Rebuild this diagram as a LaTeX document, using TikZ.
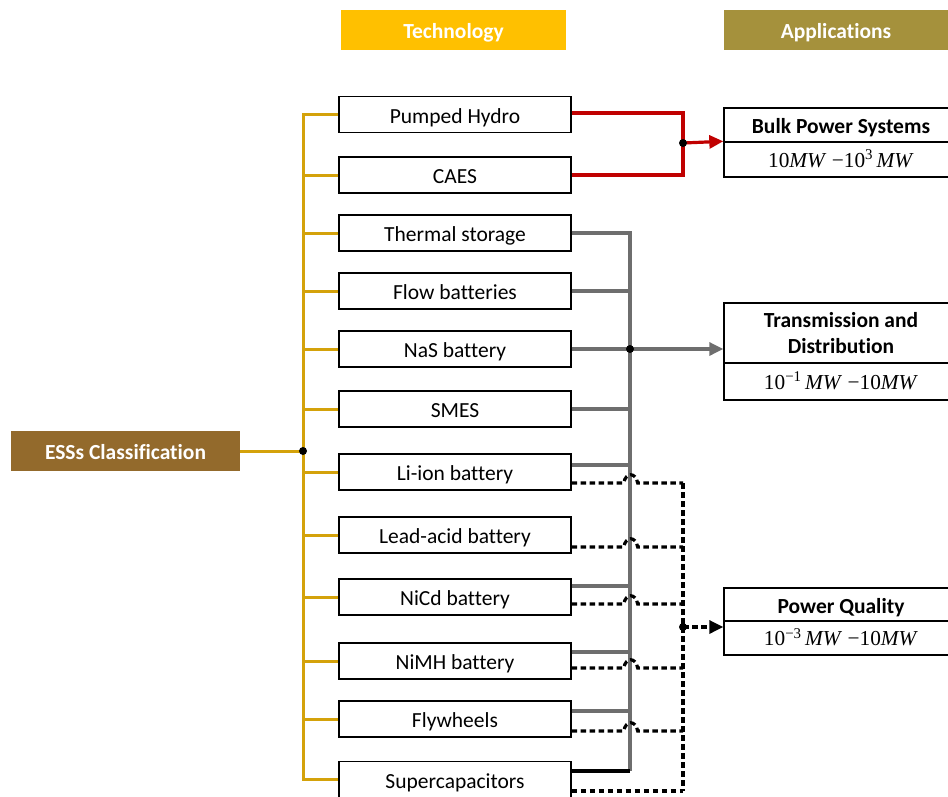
\documentclass[tikz,border=0pt]{standalone}
\usepackage{fontspec}
\setmainfont{Carlito}[Ligatures=CommonOff]
\newfontfamily\tnr{Liberation Serif}
\usetikzlibrary{arrows.meta,calc}
\definecolor{techgold}{HTML}{FFC000}
\definecolor{appolive}{HTML}{A5913C}
\definecolor{essbrown}{HTML}{936A2C}
\definecolor{spinegold}{RGB}{212,162,10}
\definecolor{busred}{HTML}{C00000}
\definecolor{busgrey}{RGB}{110,110,110}
\begin{document}
\begin{tikzpicture}[x=1pt,y=-1pt,
  big/.style={font=\fontsize{21.5}{26}\selectfont},
  bigb/.style={font=\fontsize{21.5}{26}\selectfont\bfseries},
  header/.style={bigb, text=white, inner sep=0, minimum height=40, text height=17.6, text depth=0},
  techbox/.style={big, draw, line width=1.4pt, minimum width=232, minimum height=36, inner sep=0,
    text height=17.6, text depth=0},
  appbox/.style={draw, line width=1.4pt, minimum width=234, inner sep=0, align=center},
  rangetext/.style={font=\fontsize{21.3}{25}\selectfont\tnr, text height=15.5, text depth=0},
  spine/.style={draw=spinegold, line width=3pt},
  redline/.style={draw=busred, line width=3.2pt},
  greyline/.style={draw=busgrey, line width=3.2pt},
  dashline/.style={draw=black, line width=3.2pt, dash pattern=on 5.5pt off 3.5pt},
  junction/.style={circle, fill=black, inner sep=0, minimum size=8},
  tip/.style={-{Triangle[length=14pt,width=13pt]}}
]
\clip (0,0) rectangle (948,796);
\useasboundingbox (0,0) rectangle (948,796);

% headers
\node[header, fill=techgold, minimum width=225] (htech) at (453.5,30) {Technology};
\node[header, fill=appolive, minimum width=224] (happ) at (836,30) {Applications};
\node[header, fill=essbrown, minimum width=229] (ess) at (125.5,451) {ESSs Classification};

% technology boxes
\foreach \n/\t/\y in {ph/Pumped Hydro/114.5, caes/CAES/175, th/Thermal storage/233,
  fb/Flow batteries/291, nas/NaS battery/349, smes/SMES/409, li/Li-ion battery/472,
  la/Lead-acid battery/535, nicd/NiCd battery/597, nimh/NiMH battery/661,
  fw/Flywheels/719, sc/Supercapacitors/779.5}
  \node[techbox] (\n) at (455,\y) {\t};

% application boxes
\node[appbox, bigb, minimum height=34, text height=17.6, text depth=0] (bulkT) at (841,125) {Bulk Power Systems};
\node[appbox, rangetext, minimum height=35] (bulkR) at (841,159.5)
  {10\textit{MW} −10\textsuperscript{3}\,\textit{MW}};
\node[appbox, bigb, minimum height=60] (trT) at (841,333) {Transmission and\\Distribution};
\node[appbox, rangetext, minimum height=37] (trR) at (841,381.5)
  {10\textsuperscript{−1}\,\textit{MW} −10\textit{MW}};
\node[appbox, bigb, minimum height=33, text height=17.6, text depth=0] (pqT) at (841,604.5) {Power Quality};
\node[appbox, rangetext, minimum height=34] (pqR) at (841,638)
  {10\textsuperscript{−3}\,\textit{MW} −10\textit{MW}};

% classification tree
\coordinate (sx) at (303,0);
\draw[spine] (ph.west) -- (ph.west -| sx) -- (sc.west -| sx) -- (sc.west);
\foreach \n in {caes,th,fb,nas,smes,li,la,nicd,nimh,fw}
  \draw[spine] (\n.west) -- (\n.west -| sx);
\draw[spine] (ess.east) -- (ess.east -| sx) coordinate (sj);

% bulk power feed
\coordinate (rj) at (683,143);
\draw[redline] ($(ph.east)+(0,-1.5)$) -| (rj);
\draw[redline] (caes.east) -| (rj);
\draw[redline, tip] (rj) -- (bulkR.north west);

% transmission and distribution feed
\coordinate (gtop) at (630,233);
\coordinate (gbot) at (630,771);
\draw[greyline] (th.east) -- (gtop) -- (gbot);
\foreach \n in {fb,smes}
  \draw[greyline] (\n.east) -- (\n.east -| gtop);
\foreach \n/\o in {li/-7, nicd/-11, nimh/-9, fw/-8}
  \draw[greyline] ($(\n.east)+(0,\o)$) coordinate (gs) -- (gs -| gtop);
\draw[line width=3.2pt] ($(sc.east)+(0,-8.5)$) -- (gbot);
\draw[greyline, tip] (nas.east) -- (nas.east -| gtop) coordinate (gj) -- (trT.west |- nas.east);

% power quality feed
\coordinate (dtop) at (683,483);
\coordinate (dbot) at (683,791);
\coordinate (pj) at (683,627);
\draw[dashline] (dtop) -- (dbot);
\foreach \n/\o in {li/11, la/12, nicd/7, nimh/7, fw/12}
  \draw[dashline] ($(\n.east)+(0,\o)$) coordinate (ds) -- ++(52,0)
    .. controls +(2,-11) and +(-2,-11) .. ++(14,0) -- (ds -| dtop);
\draw[dashline] ($(sc.east)+(0,11.5)$) -- (dbot);
\draw[dashline, tip] (pj) -- (pqR.west |- pj);

% junction dots
\foreach \p in {sj, rj, gj, pj}
  \node[junction] at (\p) {};
\end{tikzpicture}
\end{document}
